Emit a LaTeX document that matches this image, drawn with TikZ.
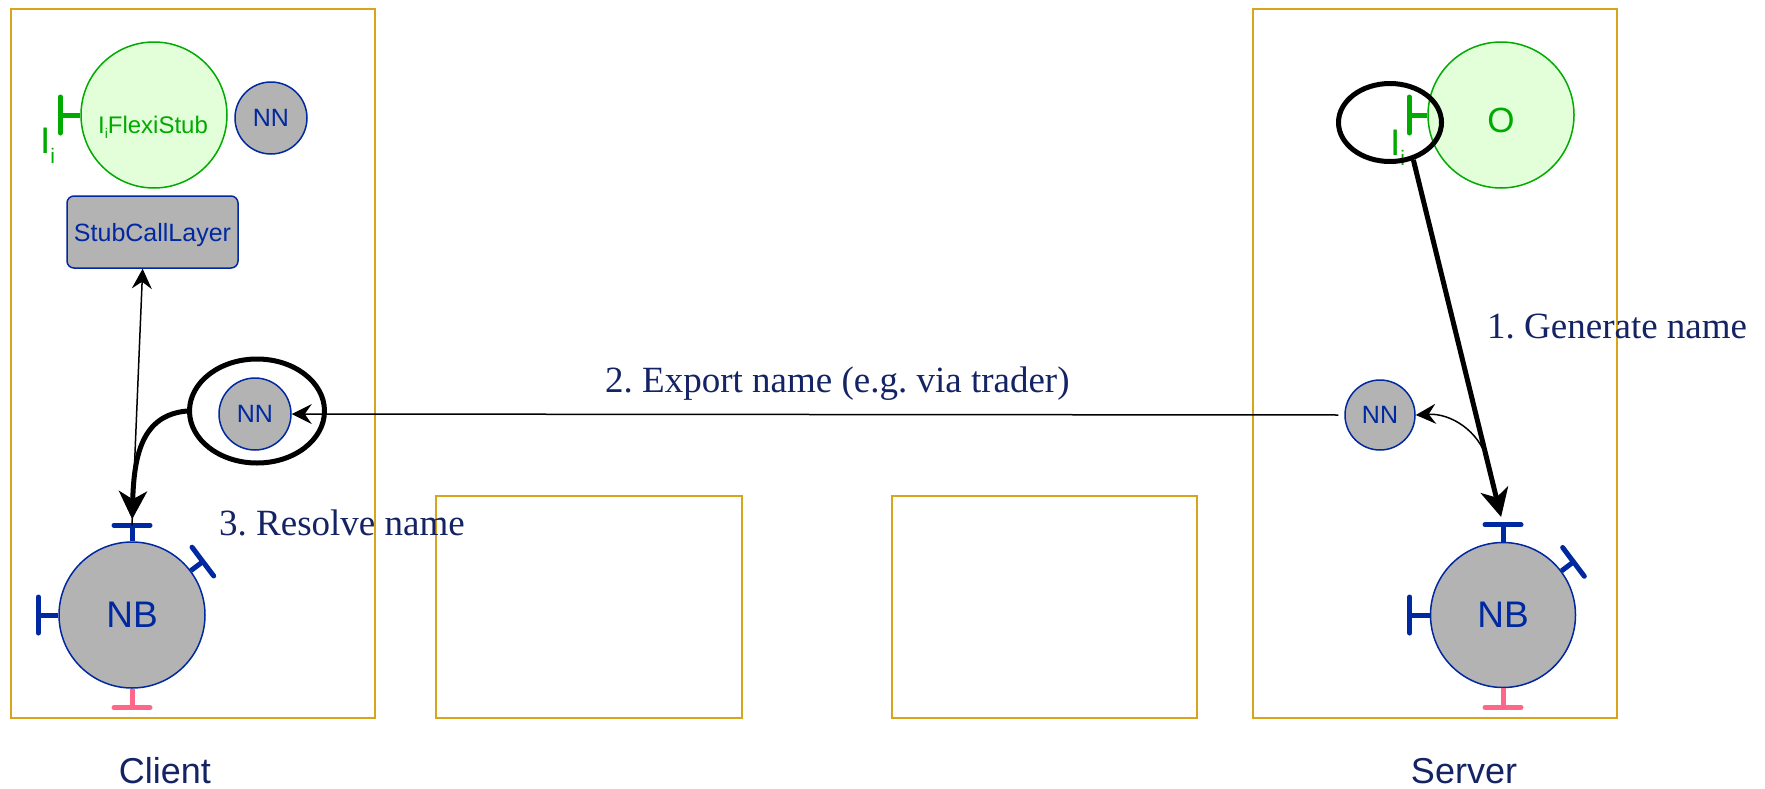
\documentclass[tikz,border=0pt]{standalone}
\usepackage{fontspec}
\setmainfont{Liberation Serif}
\setsansfont{Liberation Sans}
\usetikzlibrary{arrows.meta,calc,shapes.geometric}
\definecolor{boxc}{RGB}{216,164,28}
\definecolor{navy}{RGB}{20,35,100}
\definecolor{nblue}{RGB}{0,40,160}
\definecolor{ngray}{RGB}{179,179,179}
\definecolor{ogreen}{RGB}{0,170,0}
\definecolor{lgreen}{RGB}{226,255,218}
\definecolor{pinkc}{RGB}{255,102,136}
\newcommand\fs[1]{\fontsize{#1}{#1}\selectfont}
\frenchspacing
% node, angle, colour, stub length, name of stub end
\newcommand\ifstub[5]{%
  \draw[stubline,#3] (#1.#2) -- ($(#1.#2)!-#4!(#1.center)$) coordinate (#5);
  \draw[stubbar,#3] ($(#5)!18pt!90:(#1.center)$) -- ($(#5)!18pt!-90:(#1.center)$);
}
\begin{document}
\begin{tikzpicture}[x=1pt,y=-1pt,
  frame/.style={draw=boxc,line width=2pt},
  gcirc/.style={circle,draw=ogreen,fill=lgreen,line width=1.5pt,inner sep=0pt,text=ogreen,font=\sffamily},
  bcirc/.style={circle,draw=nblue,fill=ngray,line width=1.5pt,inner sep=0pt,text=nblue,font=\sffamily},
  bbox/.style={rectangle,rounded corners=7pt,draw=nblue,fill=ngray,line width=1.5pt,inner sep=0pt,text=nblue,font=\sffamily\fs{25}},
  thinarr/.style={line width=1.5pt,-{Stealth[length=20pt,width=20pt,inset=7pt]}},
  thickarr/.style={line width=5pt,-{Stealth[length=28pt,width=28pt,inset=8pt]}},
  ring/.style={ellipse,draw=black,line width=5pt,inner sep=0pt},
  gtext/.style={text=ogreen,font=\sffamily,inner sep=0pt},
  lbl/.style={text=navy,font=\fs{37},inner sep=0pt,anchor=base west},
  sidelbl/.style={text=navy,font=\sffamily\fs{36},inner sep=0pt},
  stubline/.style={line width=5pt},
  stubbar/.style={line width=5pt,line cap=round},
]
\useasboundingbox (0,0) rectangle (1765,788);
% frames
\draw[frame] (11,9) rectangle (375,718);
\draw[frame] (436,496) rectangle (742,718);
\draw[frame] (892,496) rectangle (1197,718);
\draw[frame] (1253,9) rectangle (1617,718);
% client
\node[gcirc,minimum size=146pt] (fs) at (154,115) {};
\node[gtext,anchor=base,font=\sffamily\fs{24}] (fstxt) at (153,133) {I\raisebox{-5pt}{\fs{14}i}FlexiStub};
\node[bcirc,minimum size=72pt,font=\sffamily\fs{25}] (cnn1) at (271,118) {NN};
\node[bbox,minimum width=171pt,minimum height=72pt,text depth=0pt] (scl) at (152.5,232) {StubCallLayer};
\node[bcirc,minimum size=72pt,font=\sffamily\fs{25}] (cnn) at (255,414) {NN};
\node[ring,minimum width=135pt,minimum height=104pt] (cring) at (257,411) {};
\node[bcirc,minimum size=146pt,font=\sffamily\fs{37}] (cnb) at (132,615) {NB};
\ifstub{fs}{180}{ogreen}{20pt}{fsi}
\node[gtext,anchor=base west,font=\sffamily\fs{37}] (cil) at (40,153) {I\raisebox{-10pt}{\fs{21}i}};
\ifstub{cnb}{90}{nblue}{16pt}{cnbtop}
\ifstub{cnb}{180}{nblue}{20pt}{cnbleft}
\ifstub{cnb}{37}{nblue}{15pt}{cnbur}
\ifstub{cnb}{-90}{pinkc}{19pt}{cnbbot}
% server
\node[gcirc,minimum size=146pt,font=\sffamily\fs{35},text height=35pt,text depth=0pt] (so) at (1501,115) {O};
\ifstub{so}{180}{ogreen}{18pt}{soi}
\node[gtext,anchor=base west,font=\sffamily\fs{37}] (sil) at (1390,155) {I\raisebox{-10pt}{\fs{21}i}};
\node[ring,minimum width=103pt,minimum height=78pt] (sring) at (1390,122.5) {};
\node[bcirc,minimum size=70pt,font=\sffamily\fs{25}] (snn) at (1380,415) {NN};
\node[bcirc,minimum size=145pt,font=\sffamily\fs{37}] (snb) at (1503,615) {NB};
\ifstub{snb}{90}{nblue}{17pt}{snbtop}
\ifstub{snb}{180}{nblue}{20pt}{snbleft}
\ifstub{snb}{37}{nblue}{15pt}{snbur}
\ifstub{snb}{-90}{pinkc}{19pt}{snbbot}
% connectors
\draw[thinarr] (cnbtop) -- (scl.-105);
\draw[thickarr,shorten >=6pt] (cring.west) .. controls +(-45,4) and +(2,-70) .. (cnbtop);
\draw[thinarr,shorten <=6pt] (snn.west) -- (cnn.east);
\draw[thickarr,shorten >=8pt] (sring.-58) -- (snbtop);
\coordinate (sbranch) at ($(sring.-58)!0.82!(snbtop)$);
\draw[thinarr] (sbranch) .. controls +(-8,-28) and +(35,-2) .. (snn.east);
% labels
\node[lbl] (t1) at (1487,338) {1. Generate name};
\node[lbl] (t2) at (605,392) {2. Export name (e.g. via trader)};
\node[lbl] (t3) at (219,535) {3. Resolve name};
\node[sidelbl] (client) at (165,771) {Client};
\node[sidelbl] (server) at (1464,771) {Server};
\end{tikzpicture}
\end{document}
